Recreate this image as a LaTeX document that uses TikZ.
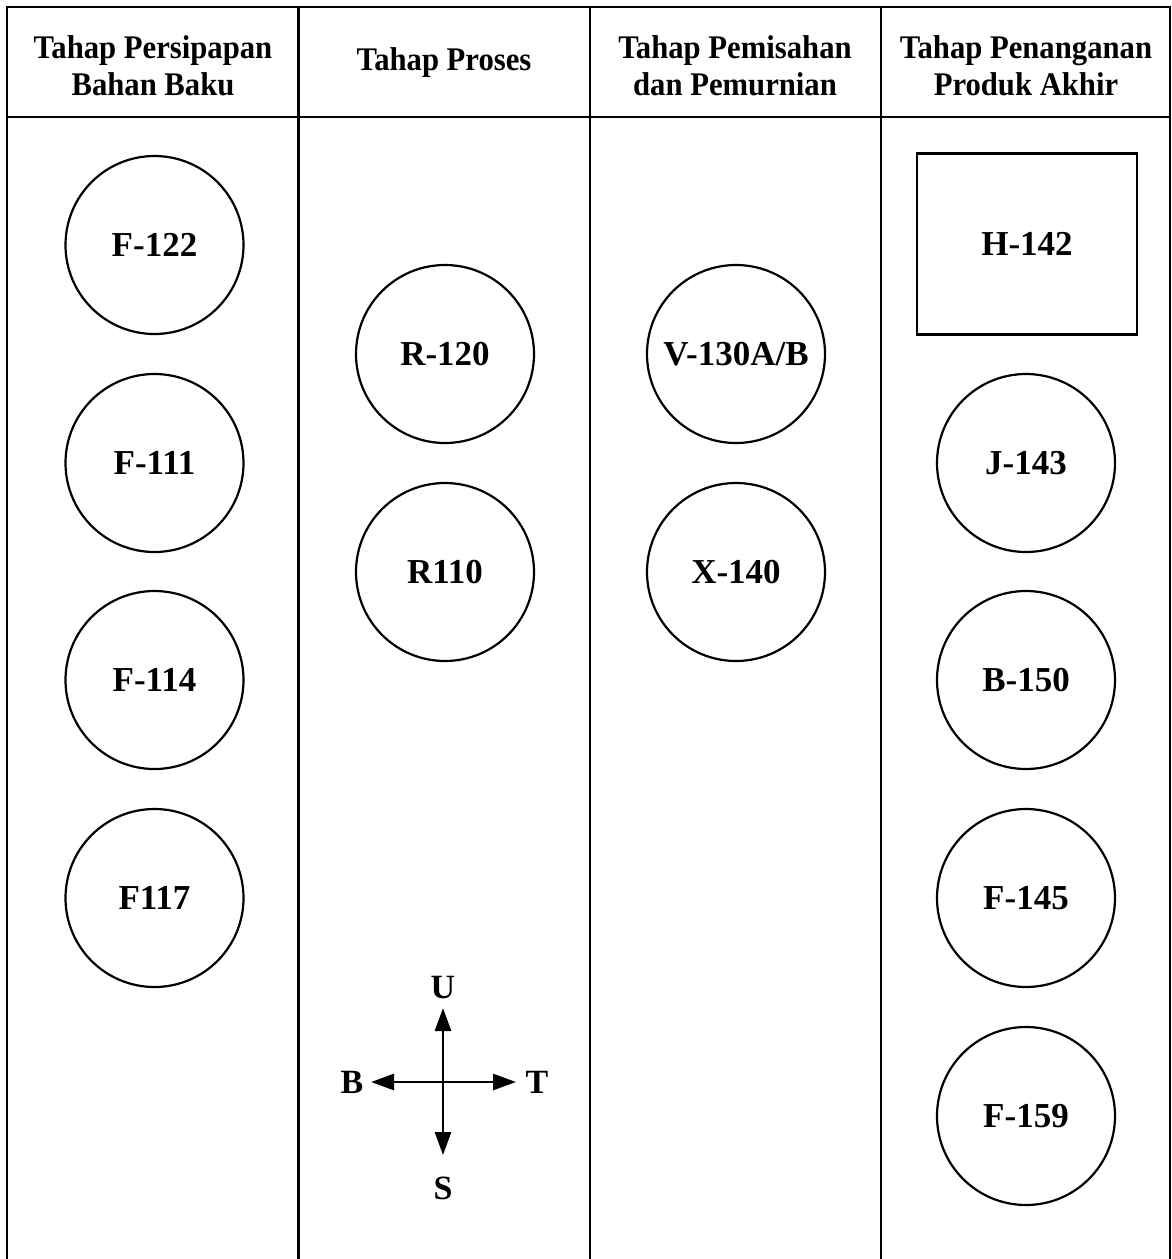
\documentclass[tikz,border=0pt]{standalone}
\usepackage{fontspec}
\setmainfont{Liberation Serif}
\newfontfamily\headfont[FakeStretch=0.93]{Liberation Serif}
\usetikzlibrary{arrows.meta}
\tikzset{
  grid/.style={line width=2.8pt, line cap=rect},
  unit/.style={draw, circle, line width=2.2pt, minimum size=178pt, inner sep=0pt,
    font=\fontsize{35}{42}\selectfont\bfseries},
  unitbox/.style={draw, rectangle, line width=2.2pt, minimum width=220pt, minimum height=181pt, inner sep=0pt,
    font=\fontsize{35}{42}\selectfont\bfseries},
  head/.style={align=center, font=\headfont\fontsize{33}{37}\selectfont\bfseries},
  dirlabel/.style={font=\fontsize{34}{38}\selectfont\bfseries, inner sep=0pt},
  compass/.style={line width=2.8pt, -{Triangle[length=23pt,width=16pt]}}
}
\begin{document}
\begin{tikzpicture}[x=1pt,y=-1pt]
\useasboundingbox (0,0) rectangle (1172,1259);
% table grid
\draw[grid] (7,1259) -- (7,7) -- (1170,7) -- (1170,1259);
\draw[grid] (7,117) -- (1170,117);
\draw[grid] (298.5,7) -- (298.5,1259);
\draw[grid] (590,7) -- (590,1259);
\draw[grid] (881,7) -- (881,1259);
% headers
\node[head] (h1) at (153,66) {Tahap Persipapan\\Bahan Baku};
\node[head] (h2) at (444,63) {Tahap Proses};
\node[head] (h3) at (735,66) {Tahap Pemisahan\\dan Pemurnian};
\node[head] (h4) at (1026,66) {Tahap Penanganan\\Produk Akhir};
% column 1
\node[unit] (f122) at (154.5,245) {F-122};
\node[unit] (f111) at (154.5,463) {F-111};
\node[unit] (f114) at (154.5,680) {F-114};
\node[unit] (f117) at (154.5,898) {F117};
% column 2
\node[unit] (r120) at (445,354) {R-120};
\node[unit] (r110) at (445,572) {R110};
% column 3
\node[unit] (v130) at (736,354) {V-130A/B};
\node[unit] (x140) at (736,572) {X-140};
% column 4
\node[unitbox] (h142) at (1027,244) {H-142};
\node[unit] (j143) at (1026,463) {J-143};
\node[unit] (b150) at (1026,680) {B-150};
\node[unit] (f145) at (1026,898) {F-145};
\node[unit] (f159) at (1026,1116) {F-159};
% compass
\coordinate (c) at (443,1082);
\coordinate (cu) at (443,1008);
\coordinate (cd) at (443,1155);
\coordinate (cl) at (371,1082);
\coordinate (cr) at (516,1082);
\draw[compass] (c) -- (cu);
\draw[compass] (c) -- (cd);
\draw[compass] (c) -- (cl);
\draw[compass] (c) -- (cr);
\node[dirlabel] (lu) at (443,988) {U};
\node[dirlabel] (ls) at (443,1188) {S};
\node[dirlabel] (lb) at (352,1082) {B};
\node[dirlabel] (lt) at (537,1082) {T};
\end{tikzpicture}
\end{document}
